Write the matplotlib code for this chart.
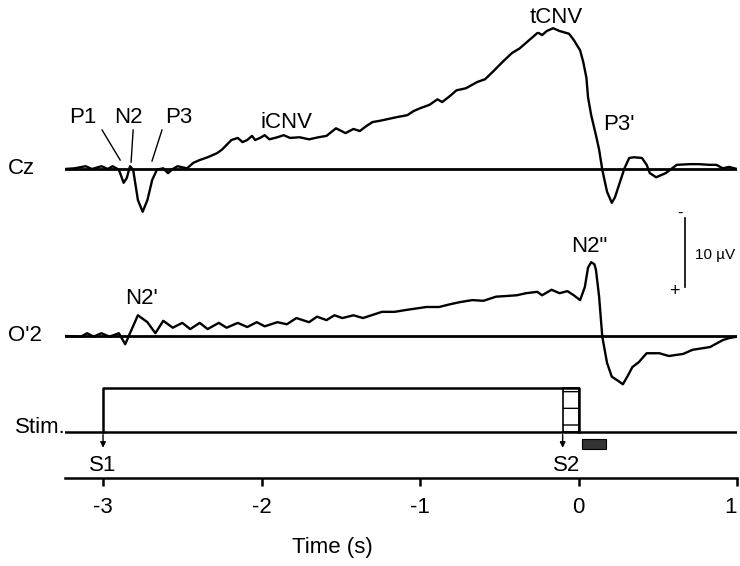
import matplotlib
matplotlib.use("Agg")
import matplotlib.pyplot as plt
from matplotlib.patches import Rectangle

plt.rcParams['font.family'] = ['Liberation Sans', 'DejaVu Sans']

# Cz trace (s, uV; negativity plotted upward)
cz_t = [-3.24, -3.18, -3.11, -3.07, -3.01, -2.97, -2.94, -2.90, -2.87, -2.85,
        -2.83, -2.81, -2.78, -2.75, -2.72, -2.69, -2.66, -2.62, -2.59, -2.56,
        -2.53, -2.47, -2.43, -2.39, -2.34, -2.28, -2.25, -2.22, -2.19, -2.15,
        -2.12, -2.09, -2.06, -2.04, -2.01, -1.98, -1.95, -1.90, -1.86, -1.82,
        -1.76, -1.70, -1.64, -1.59, -1.53, -1.47, -1.42, -1.38, -1.34, -1.30,
        -1.25, -1.21, -1.15, -1.08, -1.04, -1.00, -0.94, -0.89, -0.86, -0.81,
        -0.77, -0.71, -0.64, -0.59, -0.54, -0.48, -0.42, -0.37, -0.33, -0.29,
        -0.26, -0.25, -0.23, -0.20, -0.16, -0.12, -0.06, -0.03, 0.01, 0.03,
        0.05, 0.06, 0.08, 0.11, 0.13, 0.15, 0.18, 0.21, 0.23, 0.26,
        0.29, 0.32, 0.35, 0.40, 0.43, 0.45, 0.49, 0.55, 0.62, 0.70,
        0.76, 0.83, 0.87, 0.91, 0.95, 1.00]
cz_uv = [0.0, 0.1, 0.4, 0.0, 0.4, 0.0, 0.4, -0.1, -2.0, -1.3,
         0.4, -0.1, -4.5, -6.2, -4.5, -1.6, -0.1, 0.1, -0.6, 0.0,
         0.4, 0.1, 0.9, 1.3, 1.7, 2.3, 2.8, 3.5, 4.2, 4.5,
         3.9, 4.2, 4.8, 4.2, 4.5, 4.9, 4.3, 4.6, 4.9, 4.5,
         4.6, 4.3, 4.6, 4.8, 5.9, 5.2, 5.8, 5.5, 6.2, 6.8,
         7.0, 7.2, 7.5, 7.8, 8.4, 8.8, 9.3, 10.1, 9.7, 10.6,
         11.4, 11.7, 12.6, 13.0, 14.1, 15.5, 16.8, 17.5, 18.3, 19.1,
         19.7, 19.7, 19.4, 20.0, 20.4, 20.0, 19.6, 18.7, 17.2, 15.5,
         13.2, 10.4, 7.8, 4.9, 2.8, -0.1, -3.3, -4.9, -4.1, -2.0,
         0.1, 1.6, 1.7, 1.6, 0.6, -0.6, -1.2, -0.6, 0.6, 0.7,
         0.7, 0.6, 0.6, 0.1, 0.3, 0.0]

# O'2 trace
o2_t = [-3.24, -3.14, -3.10, -3.06, -3.01, -2.96, -2.90, -2.86, -2.83, -2.78,
        -2.72, -2.67, -2.62, -2.56, -2.50, -2.45, -2.39, -2.34, -2.27, -2.22,
        -2.15, -2.09, -2.03, -1.98, -1.90, -1.84, -1.78, -1.70, -1.65, -1.59,
        -1.54, -1.49, -1.42, -1.36, -1.24, -1.16, -1.08, -0.96, -0.88, -0.81,
        -0.75, -0.67, -0.60, -0.52, -0.45, -0.39, -0.33, -0.26, -0.23, -0.17,
        -0.12, -0.07, -0.03, 0.01, 0.04, 0.06, 0.08, 0.10, 0.11, 0.13,
        0.15, 0.18, 0.21, 0.25, 0.28, 0.31, 0.34, 0.38, 0.43, 0.51,
        0.57, 0.66, 0.72, 0.83, 0.91, 0.95, 1.00]
o2_uv = [0.0, -0.1, 0.4, -0.1, 0.4, -0.1, 0.4, -1.2, 0.4, 3.0,
         2.0, 0.4, 2.2, 1.2, 1.9, 1.0, 1.9, 1.0, 1.9, 1.2,
         1.9, 1.3, 2.0, 1.4, 2.0, 1.7, 2.6, 2.0, 2.8, 2.3,
         3.0, 2.6, 3.0, 2.6, 3.5, 3.5, 3.8, 4.2, 4.2, 4.6,
         4.9, 5.2, 5.1, 5.7, 5.8, 5.9, 6.2, 6.4, 5.9, 6.7,
         6.2, 6.5, 5.9, 5.2, 7.1, 9.9, 10.7, 10.4, 9.6, 5.7,
         -0.1, -3.9, -5.9, -6.5, -7.0, -5.8, -4.5, -3.8, -2.5, -2.5,
         -2.9, -2.6, -2.0, -1.6, -0.6, -0.3, -0.1]

cz_offset = 0.0
o2_offset = -24.2
stim_base = -38.1
stim_top = -31.7
s1_time = -3.0
s2_time = 0.0
xticks = [-3, -2, -1, 0, 1]

fig = plt.figure(figsize=(7.4, 5.66), dpi=100)
ax = fig.add_axes([65 / 740, 1 - 478 / 566, 672 / 740, 478 / 566])
ax.set_xlim(-3.24, 1.0)
ax.set_ylim(-44.78, 24.49)

lw = 1.7
# baselines
ax.axhline(cz_offset, color='black', lw=2.0)
ax.axhline(o2_offset, color='black', lw=2.0)
ax.axhline(stim_base, color='black', lw=1.8)

# traces
ax.plot(cz_t, [v + cz_offset for v in cz_uv], color='black', lw=lw)
ax.plot(o2_t, [v + o2_offset for v in o2_uv], color='black', lw=lw)

# stimulus box S1 -> S2
ax.plot([s1_time, s1_time, s2_time, s2_time],
        [stim_base, stim_top, stim_top, stim_base], color='black', lw=1.8)
ax.add_patch(Rectangle((-0.10, stim_base), 0.10, stim_top - stim_base,
                       facecolor='white', edgecolor='black', hatch='-', lw=1.2))
ax.add_patch(Rectangle((0.02, -40.6), 0.155, 1.5,
                       facecolor='#333333', edgecolor='black', lw=0.8))

# arrows
for t in [s1_time, -0.10]:
    ax.annotate('', xy=(t, -40.4), xytext=(t, -38.5),
                arrowprops=dict(arrowstyle='-|>', color='black', lw=1.0,
                                mutation_scale=8, shrinkA=0, shrinkB=0))

fs = 16
ax.text(s1_time, -42.9, 'S1', ha='center', va='center', fontsize=fs)
ax.text(-0.076, -42.9, 'S2', ha='center', va='center', fontsize=fs)

# channel labels
ax.text(-3.60, 0.0, 'Cz', ha='left', va='center', fontsize=fs, clip_on=False)
ax.text(-3.60, o2_offset, "O'2", ha='left', va='center', fontsize=fs, clip_on=False)
ax.text(-3.555, -37.5, 'Stim.', ha='left', va='center', fontsize=fs, clip_on=False)

# component labels
ax.text(-3.125, 7.5, 'P1', ha='center', va='center', fontsize=fs)
ax.text(-2.842, 7.5, 'N2', ha='center', va='center', fontsize=fs)
ax.text(-2.520, 7.5, 'P3', ha='center', va='center', fontsize=fs)
ax.plot([-3.006, -2.892], [5.65, 1.3], color='black', lw=1.0)
ax.plot([-2.810, -2.823], [5.65, 1.0], color='black', lw=1.0)
ax.plot([-2.628, -2.691], [5.65, 1.16], color='black', lw=1.0)
ax.text(-1.840, 6.8, 'iCNV', ha='center', va='center', fontsize=fs)
ax.text(-0.139, 22.0, 'tCNV', ha='center', va='center', fontsize=fs)
ax.text(0.252, 6.4, "P3'", ha='center', va='center', fontsize=fs)
ax.text(-2.760, -18.7, "N2'", ha='center', va='center', fontsize=fs)
ax.text(0.069, -11.3, 'N2"', ha='center', va='center', fontsize=fs)

# scale bar: 10 uV, negative up
ax.plot([0.674, 0.674], [-7.1, -17.1], color='black', lw=1.2)
ax.text(0.64, -6.4, '-', ha='center', va='center', fontsize=12)
ax.text(0.605, -17.8, '+', ha='center', va='center', fontsize=13)
ax.text(0.737, -12.5, '10 \u00b5V', ha='left', va='center', fontsize=11)

# axis styling
for side in ['left', 'top', 'right']:
    ax.spines[side].set_visible(False)
ax.spines['bottom'].set_linewidth(1.8)
ax.set_yticks([])
ax.set_xticks(xticks)
ax.set_xticklabels([str(t) for t in xticks], fontsize=fs)
ax.tick_params(axis='x', direction='out', length=6, width=1.8, pad=8)
ax.get_xticklabels()[-1].set_horizontalalignment('right')
fig.text(332 / 740, 1 - 547 / 566, 'Time (s)', ha='center', va='center', fontsize=fs)

fig.savefig('out.png', dpi=100)
